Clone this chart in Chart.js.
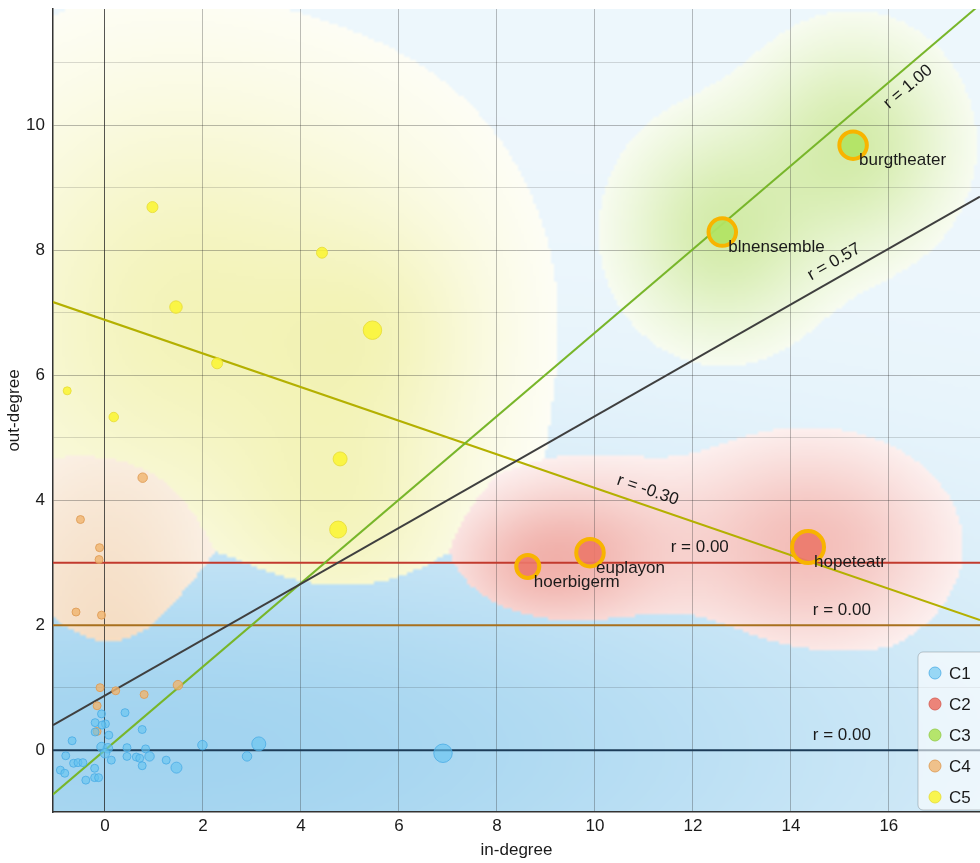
<!DOCTYPE html>
<html>
<head>
<meta charset="utf-8">
<script src="https://cdn.jsdelivr.net/npm/chart.js@4.4.1/dist/chart.umd.min.js"></script>
<style>
  html, body { margin: 0; padding: 0; background: #fff; }
  #wrap { width: 980px; height: 863px; }
</style>
</head>
<body>
<div id="wrap"><canvas id="myChart" width="980" height="863"></canvas></div>
<script>
// axis ranges
const xMin = -1.06, xMax = 17.86
const yMin = -0.99, yMax = 11.86

const clusterNames = ['C1', 'C2', 'C3', 'C4', 'C5']

// C1
const c1X = [-0.67, -0.80, -0.91, -0.82, -0.64, -0.55, -0.45, -0.39, -0.21, -0.21, -0.13, -0.07, -0.20, 0.01, -0.06, -0.20, 0.08, -0.07, 0.06, 0.00, 0.13, 0.41, 0.45, 0.45, 0.76, 0.83, 0.64, 0.71, 0.91, 0.76, 1.25, 1.46, 1.99, 2.90, 3.14, 6.90]
const c1Y = [0.15, -0.09, -0.32, -0.37, -0.21, -0.20, -0.20, -0.48, -0.29, -0.44, -0.44, 0.58, 0.44, 0.42, 0.40, 0.29, 0.24, 0.05, 0.03, -0.05, -0.16, 0.60, 0.04, -0.10, 0.33, 0.02, -0.11, -0.13, -0.10, -0.25, -0.16, -0.28, 0.08, -0.10, 0.10, -0.05]
const c1W = [2, 2, 2, 2, 2, 2, 2, 2, 2, 2, 2, 2, 2, 2, 2, 2, 2, 3, 3, 3, 2, 2, 2, 2, 2, 2, 2, 2, 3, 2, 2, 4, 3, 3, 6, 9]

// C2
const c2X = [8.63, 9.90, 14.35]
const c2Y = [2.94, 3.16, 3.25]
const c2W = [12, 15, 18]
const c2Names = ['hoerbigerm', 'euplayon', 'hopeteatr']

// C3
const c3X = [12.60, 15.27]
const c3Y = [8.29, 9.68]
const c3W = [15, 15]
const c3Names = ['blnensemble', 'burgtheater']

// C4
const c4X = [0.77, -0.50, -0.11, -0.12, -0.59, -0.07, -0.10, 0.22, 0.80, 1.49, -0.16, -0.16]
const c4Y = [4.36, 3.69, 3.24, 3.05, 2.21, 2.16, 1.00, 0.95, 0.89, 1.04, 0.71, 0.30]
const c4W = [3, 2, 2, 2, 2, 2, 2, 2, 2, 3, 2, 2]

// C5
const c5X = [0.97, 4.43, 1.45, -0.77, 0.18, 2.29, 5.46, 4.80, 4.76]
const c5Y = [8.69, 7.96, 7.09, 5.75, 5.33, 6.19, 6.72, 4.66, 3.53]
const c5W = [4, 4, 5, 2, 3, 4, 9, 6, 8]

// regression lines: y = slope * x + intercept
const fitGroup = ['all', 'C3', 'C5', 'C2', 'C4', 'C1']
const fitSlope = [0.447, 0.668, -0.269, 0, 0, 0]
const fitIntercept = [0.874, 0, 6.885, 3, 2, 0]
const fitR = ['0.57', '1.00', '-0.30', '0.00', '0.00', '0.00']

// ---- styles ----
const FONT = "'Liberation Sans', Arial, sans-serif"
const pointFill = ['rgba(100,196,240,0.62)', 'rgba(236,120,106,0.9)', 'rgba(178,228,100,0.95)', 'rgba(240,180,110,0.8)', 'rgba(250,244,48,0.85)']
const pointEdge = ['rgba(70,170,228,0.75)', 'rgba(215,95,85,0.9)', 'rgba(150,205,80,0.9)', 'rgba(222,155,85,0.85)', 'rgba(232,222,60,0.9)']
const lineColor = { all: '#3f3f3f', C3: '#78b62a', C5: '#b4b000', C2: '#c23a2e', C4: '#a8701e', C1: '#1d3c58' }
const fitLabelAt = [{ x: 15.04, off: -15.5 }, { x: 16.18, off: 16 }, { x: 10.98, off: -15 }, { x: 12.14, off: -15 }, { x: 15.04, off: -15 }, { x: 15.04, off: -15 }]
const ringColor = '#f8b400'

const groups = [
  { x: c1X, y: c1Y, w: c1W },
  { x: c2X, y: c2Y, w: c2W, names: c2Names },
  { x: c3X, y: c3Y, w: c3W, names: c3Names },
  { x: c4X, y: c4Y, w: c4W },
  { x: c5X, y: c5Y, w: c5W }
]

// density cloud look per cluster (sigma in px, ax = x stretch, ps = sigma vs weight power, t = claim threshold)
const cloudStyle = [
  { s: 110, ax: 3.0,  ps: 0,    t: 0,     g: 1.7,  col: [105, 185, 230], aMin: 0.12, aMax: 0.62, gam: 0.35 },
  { s: 62,  ax: 1.3,  ps: 1,    t: 0.12,  g: 1.0,  col: [232, 128, 118], aMin: 0.12, aMax: 0.62, gam: 0.8 },
  { s: 66,  ax: 0.92, ps: 0,    t: 0.12,  g: 1.0,  col: [182, 222, 112], aMin: 0.1,  aMax: 0.6,  gam: 0.8 },
  { s: 72,  ax: 1.1,  ps: 0,    t: 0.15,  g: 1.06, col: [232, 178, 120], aMin: 0.1,  aMax: 0.45, gam: 0.8 },
  { s: 70,  ax: 1.0,  ps: -0.5, t: 0.035, g: 1.0,  col: [232, 232, 120], aMin: 0.07, aMax: 0.56, gam: 0.7 }
]

const radiusOf = w => 2.5 + 0.75 * w

const cloudPlugin = {
  id: 'cloud',
  beforeDraw(chart) {
    const { ctx, chartArea: a, scales: { x, y } } = chart
    if (!chart.$cloud) {
      const cell = 3
      const gw = Math.ceil((a.right - a.left) / cell)
      const gh = Math.ceil((a.bottom - a.top) / cell)
      const dens = groups.map((g, k) => {
        const st = cloudStyle[k]
        const wMax = Math.max(...g.w)
        const px = g.x.map(v => x.getPixelForValue(v) - a.left)
        const py = g.y.map(v => y.getPixelForValue(v) - a.top)
        const sig = g.w.map(w => st.s * Math.pow(w / wMax, st.ps))
        const arr = new Float32Array(gw * gh)
        let max = 0
        for (let j = 0; j < gh; j++) {
          const cy = (j + 0.5) * cell
          for (let i = 0; i < gw; i++) {
            const cx = (i + 0.5) * cell
            let s = 0
            for (let n = 0; n < px.length; n++) {
              const dx = (cx - px[n]) / (sig[n] * st.ax)
              const dy = (cy - py[n]) / sig[n]
              s += g.w[n] * Math.exp(-0.5 * (dx * dx + dy * dy))
            }
            arr[j * gw + i] = s
            if (s > max) max = s
          }
        }
        for (let i = 0; i < arr.length; i++) arr[i] /= max
        return arr
      })
      const off = document.createElement('canvas')
      off.width = gw; off.height = gh
      const octx = off.getContext('2d')
      const img = octx.createImageData(gw, gh)
      for (let p = 0; p < gw * gh; p++) {
        let best = 0, bestScore = dens[0][p] * cloudStyle[0].g
        for (let k = 1; k < dens.length; k++) {
          const n = dens[k][p]
          if (n > cloudStyle[k].t && n * cloudStyle[k].g > bestScore) { best = k; bestScore = n * cloudStyle[k].g }
        }
        const st = cloudStyle[best]
        const n = dens[best][p]
        const f = Math.max(0, Math.min(1, (n - st.t) / (1 - st.t)))
        const al = st.aMin + (st.aMax - st.aMin) * Math.pow(f, st.gam)
        img.data[p * 4] = 255 - (255 - st.col[0]) * al
        img.data[p * 4 + 1] = 255 - (255 - st.col[1]) * al
        img.data[p * 4 + 2] = 255 - (255 - st.col[2]) * al
        img.data[p * 4 + 3] = 255
      }
      octx.putImageData(img, 0, 0)
      chart.$cloud = off
    }
    ctx.save()
    ctx.imageSmoothingEnabled = true
    ctx.imageSmoothingQuality = 'high'
    ctx.drawImage(chart.$cloud, a.left, a.top, a.right - a.left, a.bottom - a.top)
    ctx.restore()
  }
}

const labelPlugin = {
  id: 'labels',
  afterDatasetsDraw(chart) {
    const { ctx, scales: { x, y } } = chart
    ctx.save()
    ctx.fillStyle = '#1a1a1a'
    ctx.font = '17px ' + FONT
    // r = ... labels along each fit line
    fitGroup.forEach((g, i) => {
      const lx = fitLabelAt[i].x
      const px0 = x.getPixelForValue(lx), py0 = y.getPixelForValue(fitSlope[i] * lx + fitIntercept[i])
      const px1 = x.getPixelForValue(lx + 1), py1 = y.getPixelForValue(fitSlope[i] * (lx + 1) + fitIntercept[i])
      const ang = Math.atan2(py1 - py0, px1 - px0)
      ctx.save()
      ctx.translate(px0, py0)
      ctx.rotate(ang)
      ctx.textAlign = 'center'
      ctx.textBaseline = 'middle'
      ctx.fillText('r = ' + fitR[i], 0, fitLabelAt[i].off)
      ctx.restore()
    })
    // names of the highlighted points
    ctx.textAlign = 'left'
    ctx.textBaseline = 'top'
    groups.forEach(g => {
      if (!g.names) return
      g.names.forEach((nm, i) => {
        ctx.fillText(nm, x.getPixelForValue(g.x[i]) + 6, y.getPixelForValue(g.y[i]) + 7)
      })
    })
    ctx.restore()
  }
}

const legendPlugin = {
  id: 'legendBox',
  afterDraw(chart) {
    const { ctx, chartArea: a } = chart
    const left = a.right - 62, top = a.bottom - 160, rowH = 31
    ctx.save()
    ctx.beginPath()
    ctx.roundRect(left, top, 80, 158, 5)
    ctx.fillStyle = 'rgba(255,255,255,0.6)'
    ctx.fill()
    ctx.strokeStyle = 'rgba(0,0,0,0.2)'
    ctx.lineWidth = 1
    ctx.stroke()
    clusterNames.forEach((nm, i) => {
      const cy = top + 21 + i * rowH
      ctx.beginPath()
      ctx.arc(left + 17, cy, 6, 0, Math.PI * 2)
      ctx.fillStyle = pointFill[i]
      ctx.fill()
      ctx.strokeStyle = pointEdge[i]
      ctx.stroke()
      ctx.fillStyle = '#1a1a1a'
      ctx.font = '17px ' + FONT
      ctx.textBaseline = 'middle'
      ctx.fillText(nm, left + 31, cy + 1)
    })
    ctx.restore()
  }
}

const fitDatasets = fitGroup.map((g, i) => ({
  type: 'line',
  label: 'fit ' + g,
  data: [xMin, xMax].map(v => ({ x: v, y: fitSlope[i] * v + fitIntercept[i] })),
  borderColor: lineColor[g],
  borderWidth: 2,
  pointRadius: 0,
  fill: false,
  order: 2
}))

const pointDatasets = groups.map((g, k) => ({
  type: 'scatter',
  label: clusterNames[k],
  data: g.x.map((v, i) => ({ x: v, y: g.y[i] })),
  pointRadius: g.w.map(radiusOf),
  pointBackgroundColor: pointFill[k],
  pointBorderColor: g.x.map(() => g.names ? ringColor : pointEdge[k]),
  pointBorderWidth: g.x.map(() => g.names ? 4 : 1),
  order: 1
}))

new Chart(document.getElementById('myChart'), {
  data: { datasets: [...fitDatasets, ...pointDatasets] },
  options: {
    responsive: false,
    animation: false,
    layout: { autoPadding: false, padding: { top: 9, right: 0, left: 0, bottom: 0 } },
    plugins: { legend: { display: false }, tooltip: { enabled: false } },
    scales: {
      x: {
        type: 'linear',
        min: xMin, max: xMax,
        afterFit: s => { s.height = 51; s.paddingLeft = 0; s.paddingRight = 0 },
        border: { display: true, color: '#333', width: 1.5 },
        grid: {
          drawTicks: false,
          color: c => c.tick.value === 0 ? 'rgba(30,30,30,0.75)' : 'rgba(40,40,40,0.3)'
        },
        ticks: { stepSize: 2, includeBounds: false, padding: 4, color: '#1a1a1a', font: { size: 17, family: FONT } },
        title: { display: true, text: 'in-degree', color: '#1a1a1a', font: { size: 17, family: FONT }, padding: { top: 0, bottom: 2 } }
      },
      y: {
        type: 'linear',
        min: yMin, max: yMax,
        afterFit: s => { s.width = 53; s.paddingTop = 0; s.paddingBottom = 0 },
        border: { display: true, color: '#333', width: 1.5 },
        grid: {
          drawTicks: false,
          color: c => c.tick.value % 2 === 0 ? 'rgba(40,40,40,0.32)' : 'rgba(40,40,40,0.17)'
        },
        ticks: {
          stepSize: 1, includeBounds: false, padding: 8, color: '#1a1a1a', font: { size: 17, family: FONT },
          callback: v => v % 2 === 0 ? v : ''
        },
        title: { display: true, text: 'out-degree', color: '#1a1a1a', font: { size: 17, family: FONT }, padding: { top: 4, bottom: 0 } }
      }
    }
  },
  plugins: [cloudPlugin, labelPlugin, legendPlugin]
})
</script>
</body>
</html>
